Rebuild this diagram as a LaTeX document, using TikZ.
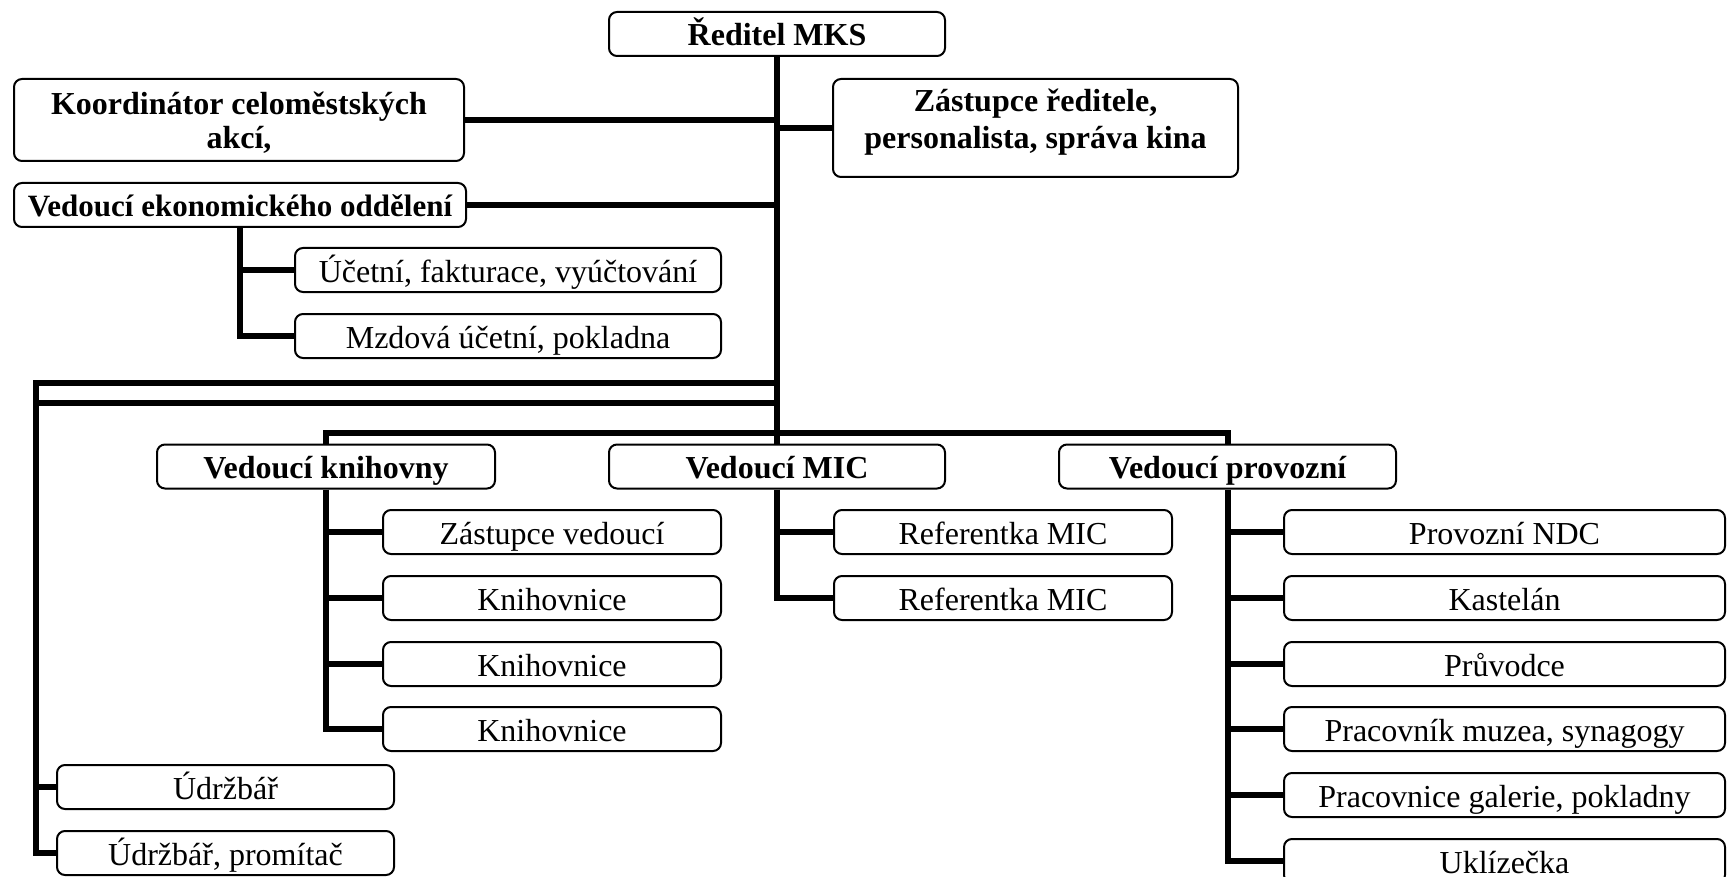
\documentclass[tikz,border=0pt]{standalone}
\usepackage{fontspec}
\setmainfont{Liberation Serif}
\begin{document}
\begin{tikzpicture}[x=0.5pt,y=-0.5pt,
  bx/.style={draw, rounded corners=4pt, line width=1pt, inner sep=1pt, align=center,
    font=\fontsize{16}{18.4}\selectfont, minimum height=22pt, text height=14.5pt, text depth=2.5pt},
  bb/.style={bx, font=\fontsize{16}{18.4}\selectfont\bfseries},
  conn/.style={line width=3pt}]
\useasboundingbox (0,0) rectangle (1728,877);
% top level
\node[bb, minimum width=168pt] (dir) at (777,34) {Ředitel MKS};
\node[bb, minimum width=225pt, minimum height=0pt, font=\fontsize{16}{17}\selectfont\bfseries,
      text height=34pt, text depth=5pt, anchor=north] (koord) at (239,78) {Koordinátor celoměstských\\akcí,};
\node[bb, minimum width=202.5pt, minimum height=0pt, font=\fontsize{16}{18.5}\selectfont\bfseries,
      text height=34pt, text depth=13pt, anchor=north] (zast) at (1035.5,78) {Zástupce ředitele,\\personalista, správa kina};
\node[bb, minimum width=226pt, font=\fontsize{15.5}{18}\selectfont\bfseries] (ekon) at (240,205) {Vedoucí ekonomického oddělení};
\node[bx, minimum width=213pt] (uc) at (508,270) {Účetní, fakturace, vyúčtování};
\node[bx, minimum width=213pt] (mz) at (508,336) {Mzdová účetní, pokladna};
% department heads
\node[bb, minimum width=169pt] (vk) at (326,466.5) {Vedoucí knihovny};
\node[bb, minimum width=168pt] (vm) at (777,466.5) {Vedoucí MIC};
\node[bb, minimum width=168.5pt] (vp) at (1227.5,466.5) {Vedoucí provozní};
% library
\node[bx, minimum width=169pt] (k1) at (552,532) {Zástupce vedoucí};
\node[bx, minimum width=169pt] (k2) at (552,598) {Knihovnice};
\node[bx, minimum width=169pt] (k3) at (552,664) {Knihovnice};
\node[bx, minimum width=169pt] (k4) at (552,729) {Knihovnice};
% MIC
\node[bx, minimum width=169pt] (m1) at (1003,532) {Referentka MIC};
\node[bx, minimum width=169pt] (m2) at (1003,598) {Referentka MIC};
% operations
\node[bx, minimum width=220.5pt] (p1) at (1504.5,532) {Provozní NDC};
\node[bx, minimum width=220.5pt] (p2) at (1504.5,598) {Kastelán};
\node[bx, minimum width=220.5pt] (p3) at (1504.5,664) {Průvodce};
\node[bx, minimum width=220.5pt] (p4) at (1504.5,729) {Pracovník muzea, synagogy};
\node[bx, minimum width=220.5pt] (p5) at (1504.5,795) {Pracovnice galerie, pokladny};
\node[bx, minimum width=220.5pt] (p6) at (1504.5,861) {Uklízečka};
% maintenance
\node[bx, minimum width=168.5pt] (u1) at (225.5,787) {Údržbář};
\node[bx, minimum width=168.5pt] (u2) at (225.5,853) {Údržbář, promítač};
% helper coordinates
\coordinate (L1) at (36,383);
\coordinate (L2) at (36,403);
\coordinate (bar) at (777,433);
% connectors
\draw[conn] (dir.south) -- (vm.north);
\draw[conn] (koord.east) -- (koord.east -| dir.south);
\draw[conn] (zast.west) -- (zast.west -| dir.south);
\draw[conn] (ekon.east) -- (ekon.east -| dir.south);
\draw[conn] (ekon.south) |- (mz.west);
\draw[conn] (ekon.south |- uc.west) -- (uc.west);
\draw[conn] (dir.south |- L1) -- (L1) |- (u2.west);
\draw[conn] (dir.south |- L2) -- (L2);
\draw[conn] (L1 |- u1.west) -- (u1.west);
\draw[conn] (vk.north) |- (bar) -| (vp.north);
\draw[conn] (vk.south) |- (k4.west);
\foreach \n in {k1,k2,k3} \draw[conn] (vk.south |- \n.west) -- (\n.west);
\draw[conn] (vm.south) |- (m2.west);
\draw[conn] (vm.south |- m1.west) -- (m1.west);
\draw[conn] (vp.south) |- (p6.west);
\foreach \n in {p1,p2,p3,p4,p5} \draw[conn] (vp.south |- \n.west) -- (\n.west);
\end{tikzpicture}
\end{document}
